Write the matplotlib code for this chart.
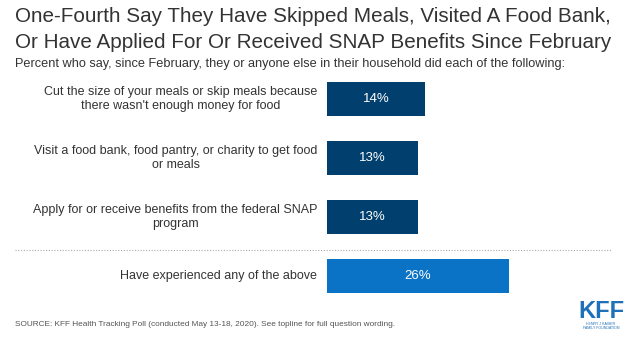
import matplotlib.pyplot as plt
from matplotlib.lines import Line2D

plt.rcParams['font.family'] = ['Liberation Sans', 'DejaVu Sans']

labels = [
    "Cut the size of your meals or skip meals because\nthere wasn't enough money for food",
    "Visit a food bank, food pantry, or charity to get food\nor meals",
    "Apply for or receive benefits from the federal SNAP\nprogram",
    "Have experienced any of the above",
]
values = [14, 13, 13, 26]
colors = ["#003f6e", "#003f6e", "#003f6e", "#0a73c5"]

W, H = 640, 339
fig = plt.figure(figsize=(6.4, 3.39), dpi=100)

def px(l, t, r, b):
    return [l / W, 1 - b / H, (r - l) / W, (b - t) / H]

ax = fig.add_axes(px(327, 69.5, 607, 305.5))
ax.set_xlim(0, 40)
ax.set_ylim(3.5, -0.5)
ax.axis('off')

ypos = [0, 1, 2, 3.0]
ax.barh(ypos, values, height=0.58, color=colors)
for y, v, lab in zip(ypos, values, labels):
    ax.text(v / 2, y, f"{v}%", color="white", ha="center", va="center", fontsize=9.5)
    ax.annotate(lab, xy=(0, y), xytext=(-7, 0), textcoords="offset points",
                ha="right", va="center", fontsize=9, color="#333333",
                multialignment="center", linespacing=1.3)

# dotted separator
fig.add_artist(Line2D([15 / W, 612 / W], [1 - 250 / H, 1 - 250 / H], color="#aaaaaa",
                      linestyle=(0, (1, 1.5)), linewidth=0.8))

fig.text(15 / W, 1 - 17 / H, "One-Fourth Say They Have Skipped Meals, Visited A Food Bank,",
         fontsize=14.9, color="#333333", va="center")
fig.text(15 / W, 1 - 42 / H, "Or Have Applied For Or Received SNAP Benefits Since February",
         fontsize=14.9, color="#333333", va="center")
fig.text(15 / W, 1 - 64 / H,
         "Percent who say, since February, they or anyone else in their household did each of the following:",
         fontsize=9.2, color="#333333", va="center")
fig.text(15 / W, 1 - 325 / H,
         "SOURCE: KFF Health Tracking Poll (conducted May 13-18, 2020). See topline for full question wording.",
         fontsize=5.95, color="#555555", va="center")

# KFF logo
fig.text(601 / W, 1 - 311 / H, "KFF", fontsize=17, fontweight="bold", color="#1e70b8",
         ha="center", va="center")
fig.text(601 / W, 1 - 326 / H, "HENRY J KAISER\nFAMILY FOUNDATION", fontsize=2.6, color="#1e70b8",
         ha="center", va="center", linespacing=1.1)

fig.savefig("out.png", dpi=100, facecolor="white")
plt.close()
